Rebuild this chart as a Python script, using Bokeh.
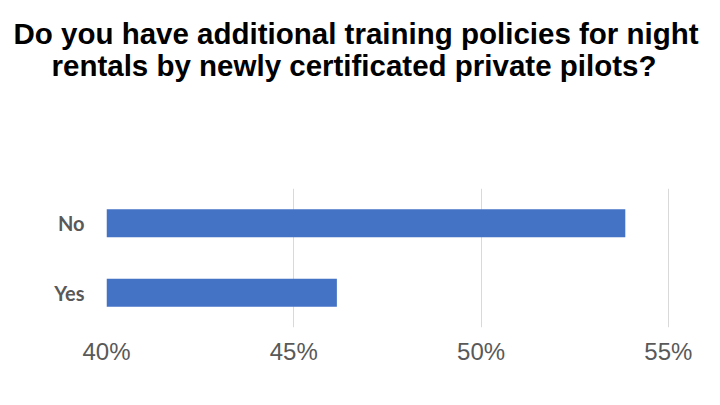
from bokeh.plotting import figure
from bokeh.models import Range1d, FactorRange, FixedTicker, NumeralTickFormatter, ColumnDataSource, Title
from bokeh.embed import file_html
from bokeh.resources import INLINE

title_lines = ["Do you have additional training policies for night",
               "rentals by newly certificated private pilots?"]
categories = ["No", "Yes"]
shares = [0.5385, 0.4615]
tick_values = [0.40, 0.45, 0.50, 0.55]

source = ColumnDataSource(data=dict(cat=categories, val=shares))

p = figure(width=704, height=389, output_backend="svg", toolbar_location=None,
           y_range=FactorRange(factors=["Yes", "No"]),
           x_range=Range1d(0.40, 0.5503),
           min_border_left=106, min_border_right=35, min_border_bottom=62, min_border_top=0)

p.hbar(y="cat", left=0.40, right="val", height=0.4, source=source,
       fill_color="#4472C4", line_color=None)

p.title.visible = False

def make_title(txt, standoff, size="29.5px", offset=0):
    return Title(text=txt, align="left", offset=offset, text_font="Liberation Sans",
                 text_font_style="bold", text_font_size=size, text_color="#000000",
                 standoff=standoff)

p.add_layout(make_title(" ", 94.7, "10px"), "above")
p.add_layout(make_title(title_lines[1], -3, offset=-55), "above")
p.add_layout(make_title(title_lines[0], -3, offset=-93), "above")
p.add_layout(make_title(" ", 2.5, "10px"), "above")

p.outline_line_color = None
p.ygrid.grid_line_color = None
p.xgrid.grid_line_color = "#d9d9d9"
p.xgrid.grid_line_width = 1

p.xaxis.ticker = FixedTicker(ticks=tick_values)
p.xaxis.formatter = NumeralTickFormatter(format="0%")
p.xaxis.axis_line_color = None
p.xaxis.major_tick_line_color = None
p.xaxis.minor_tick_line_color = None
p.xaxis.major_label_text_font = "Liberation Sans"
p.xaxis.major_label_text_font_size = "24px"
p.xaxis.major_label_text_color = "#595959"
p.xaxis.major_label_standoff = 4

p.yaxis.axis_line_color = None
p.yaxis.major_tick_line_color = None
p.yaxis.major_label_text_font = "Lato"
p.yaxis.major_label_text_font_style = "bold"
p.yaxis.major_label_text_font_size = "20px"
p.yaxis.major_label_text_color = "#595959"
p.yaxis.major_label_standoff = 16

open("out.html", "w").write(file_html(p, INLINE))
